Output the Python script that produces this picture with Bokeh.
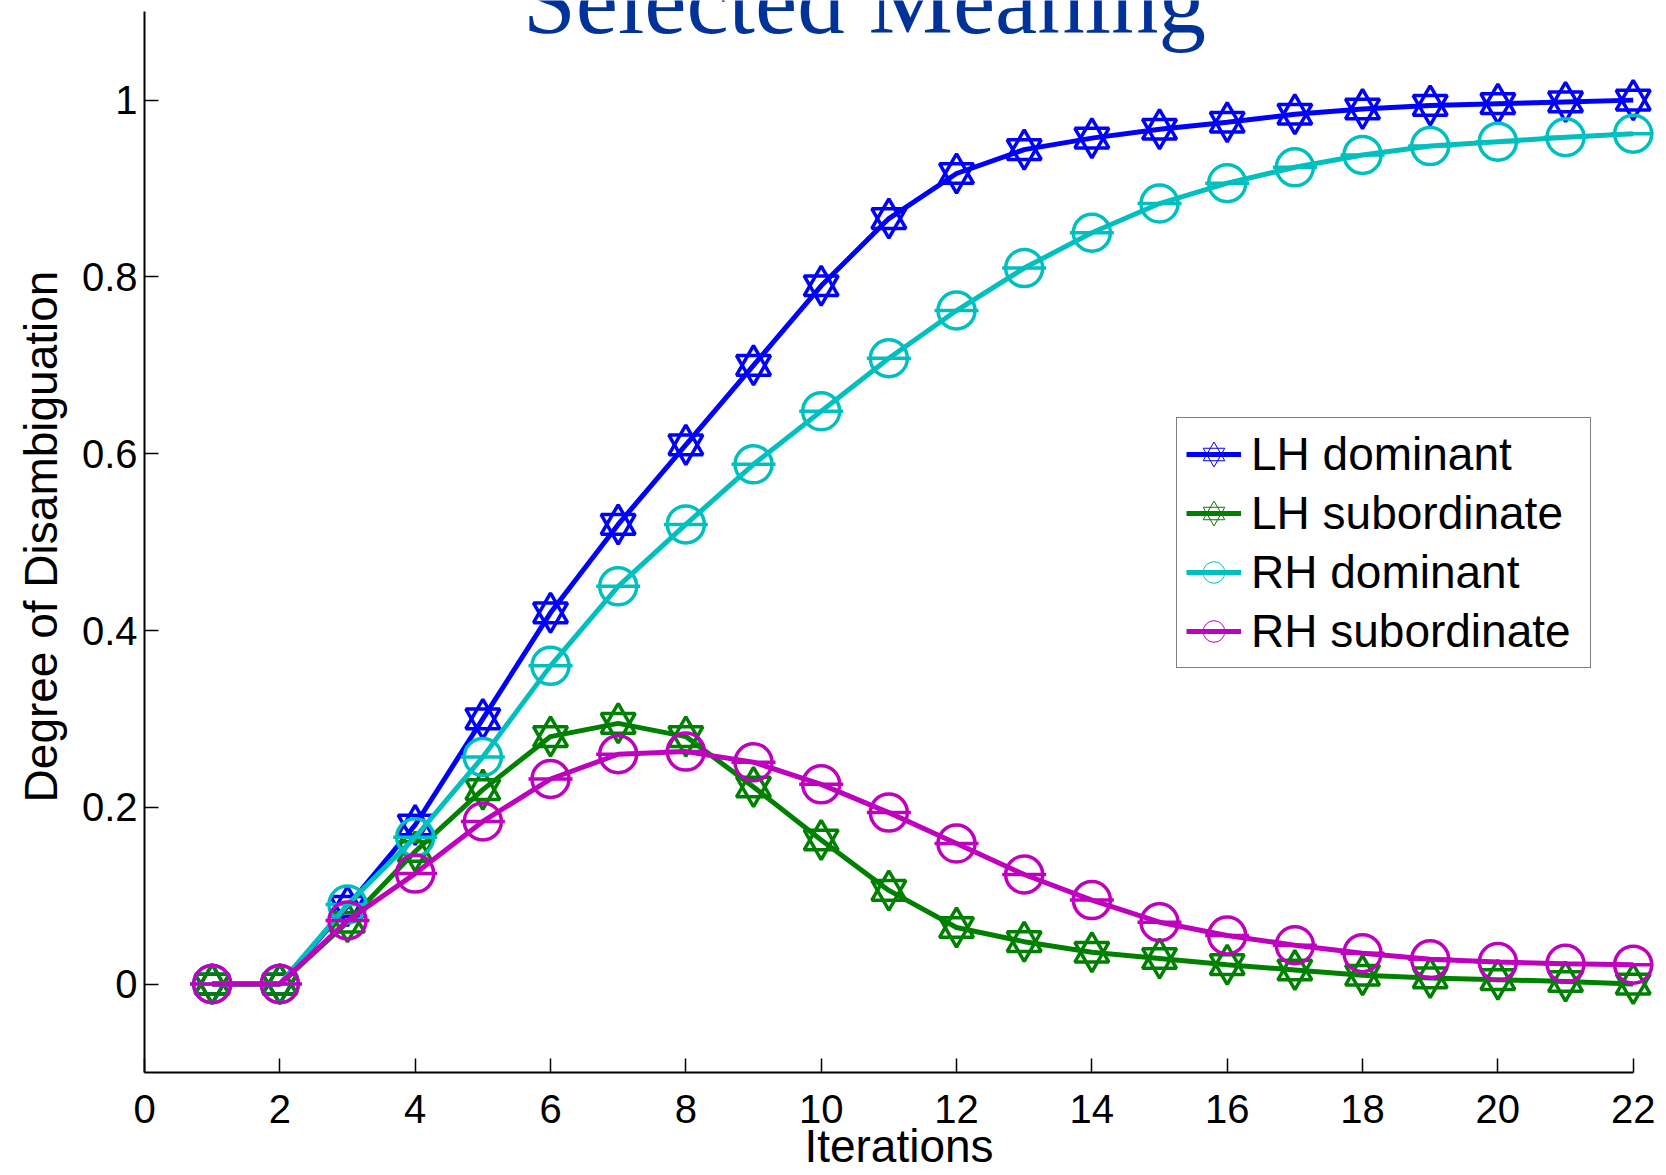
import math
from bokeh.plotting import figure
from bokeh.models import Legend, LegendItem, Label, FixedTicker, ColumnDataSource
from bokeh.embed import file_html
from bokeh.resources import INLINE

# ---------------- data ----------------
iterations = [1, 2, 3, 4, 5, 6, 7, 8, 9, 10, 11, 12, 13, 14, 15, 16, 17, 18, 19, 20, 21, 22]
lh_dominant = [0.0, 0.0, 0.088, 0.18, 0.30, 0.42, 0.52, 0.61, 0.70, 0.79, 0.866, 0.917,
               0.944, 0.957, 0.967, 0.975, 0.984, 0.99, 0.994, 0.996, 0.998, 1.0]
lh_subordinate = [0.0, 0.0, 0.07, 0.15, 0.22, 0.28, 0.295, 0.28, 0.223, 0.163, 0.106, 0.064,
                  0.048, 0.036, 0.029, 0.022, 0.016, 0.01, 0.007, 0.005, 0.003, 0.0]
rh_dominant = [0.0, 0.0, 0.09, 0.166, 0.257, 0.36, 0.45, 0.52, 0.588, 0.648, 0.708, 0.762,
               0.81, 0.85, 0.883, 0.906, 0.924, 0.938, 0.948, 0.953, 0.958, 0.962]
rh_subordinate = [0.0, 0.0, 0.072, 0.125, 0.184, 0.232, 0.26, 0.263, 0.251, 0.226, 0.194, 0.159,
                  0.124, 0.095, 0.07, 0.055, 0.044, 0.035, 0.028, 0.025, 0.023, 0.022]

series_names = ["LH dominant", "LH subordinate", "RH dominant", "RH subordinate"]
series_colors = ["#0000ff", "#008000", "#00bfbf", "#bf00bf"]
series_markers = ["hexagram", "hexagram", "circle", "circle"]

x_ticks = [0, 2, 4, 6, 8, 10, 12, 14, 16, 18, 20, 22]
y_ticks = [0.0, 0.2, 0.4, 0.6, 0.8, 1.0]
y_tick_labels = ["0", "0.2", "0.4", "0.6", "0.8", "1"]
x_axis_bounds = (0, 22)
y_axis_bounds = (-0.1, 1.1)

title_text = "Selected Meaning"
x_label = "Iterations"
y_label = "Degree of Disambiguation"

# ---------------- figure ----------------
# the frame runs a little past the axes' ends so that end markers and the
# (cut-off) title are not clipped; the axis lines stop at their bounds
p = figure(width=1666, height=1175, x_range=(0, 22.3), y_range=(-0.1, 1.1127),
           output_backend="svg", toolbar_location=None,
           min_border_left=144, min_border_right=13, min_border_top=0, min_border_bottom=103)
p.outline_line_color = None
p.grid.visible = False
p.background_fill_color = "white"
p.border_fill_color = "white"

for ax in (p.xaxis[0], p.yaxis[0]):
    ax.axis_line_color = "black"
    ax.axis_line_width = 2
    ax.major_tick_line_color = "black"
    ax.major_tick_line_width = 1.5
    ax.major_tick_in = 14
    ax.major_tick_out = 0
    ax.minor_tick_line_color = None
    ax.major_label_text_font = "Liberation Sans"
    ax.major_label_text_font_size = "40px"
    ax.major_label_text_color = "black"
    ax.axis_label_text_font = "Liberation Sans"
    ax.axis_label_text_font_size = "46px"
    ax.axis_label_text_font_style = "normal"
    ax.axis_label_text_color = "black"

p.xaxis.bounds = x_axis_bounds
p.yaxis.bounds = y_axis_bounds
p.xaxis.ticker = FixedTicker(ticks=x_ticks)
p.yaxis.ticker = FixedTicker(ticks=y_ticks)
p.yaxis.major_label_overrides = {t: s for t, s in zip(y_ticks, y_tick_labels)}
p.xaxis.major_label_standoff = 22
p.yaxis.major_label_standoff = 7
p.xaxis.axis_label = x_label
p.yaxis.axis_label = y_label
p.xaxis.axis_label_standoff = -6
p.yaxis.axis_label_standoff = 12

all_values = [lh_dominant, lh_subordinate, rh_dominant, rh_subordinate]
items = []
for name, color, mk, vals in zip(series_names, series_colors, series_markers, all_values):
    src = ColumnDataSource(dict(x=iterations, y=vals))
    ln = p.line("x", "y", source=src, line_color=color, line_width=5)
    if mk == "hexagram":
        p.scatter("x", "y", source=src, marker="triangle", size=34, line_color=color,
                  fill_color=None, line_width=3.5)
        p.scatter("x", "y", source=src, marker="inverted_triangle", size=34, line_color=color,
                  fill_color=None, line_width=3.5)
        d1 = p.scatter("x", "y", source=src, marker="triangle", size=30, line_color=color,
                       fill_color=None, line_width=1, visible=False)
        d2 = p.scatter("x", "y", source=src, marker="inverted_triangle", size=30,
                       line_color=color, fill_color=None, line_width=1, visible=False)
        items.append(LegendItem(label=name, renderers=[ln, d1, d2]))
    else:
        p.scatter("x", "y", source=src, marker="circle", size=37, line_color=color,
                  fill_color=None, line_width=3.5)
        p.scatter("x", "y", source=src, marker="dash", size=44, line_color=color,
                  line_width=3.5)
        d1 = p.scatter("x", "y", source=src, marker="circle", size=36, line_color=color,
                       fill_color=None, line_width=1, visible=False)
        items.append(LegendItem(label=name, renderers=[ln, d1]))

legend = Legend(items=items, location=(1032, 404), click_policy="none")
legend.label_text_font = "Liberation Sans"
legend.label_text_font_size = "46px"
legend.label_text_color = "black"
legend.glyph_width = 55
legend.glyph_height = 54
legend.label_height = 54
legend.label_width = 330
legend.spacing = 5
legend.padding = 9
legend.margin = 0
legend.label_standoff = 10
legend.border_line_color = "black"
legend.border_line_width = 1.5
legend.background_fill_color = "white"
legend.background_fill_alpha = 1.0
p.add_layout(legend, "center")

# title (partly cut off at the top, as in the reference)
p.add_layout(Label(x=720, y=1072, x_units="screen", y_units="screen", text=title_text,
                   text_font="Liberation Serif", text_font_size="95px", text_color="#003399",
                   text_align="center", text_baseline="alphabetic"))

open("out.html", "w").write(file_html(p, INLINE))
